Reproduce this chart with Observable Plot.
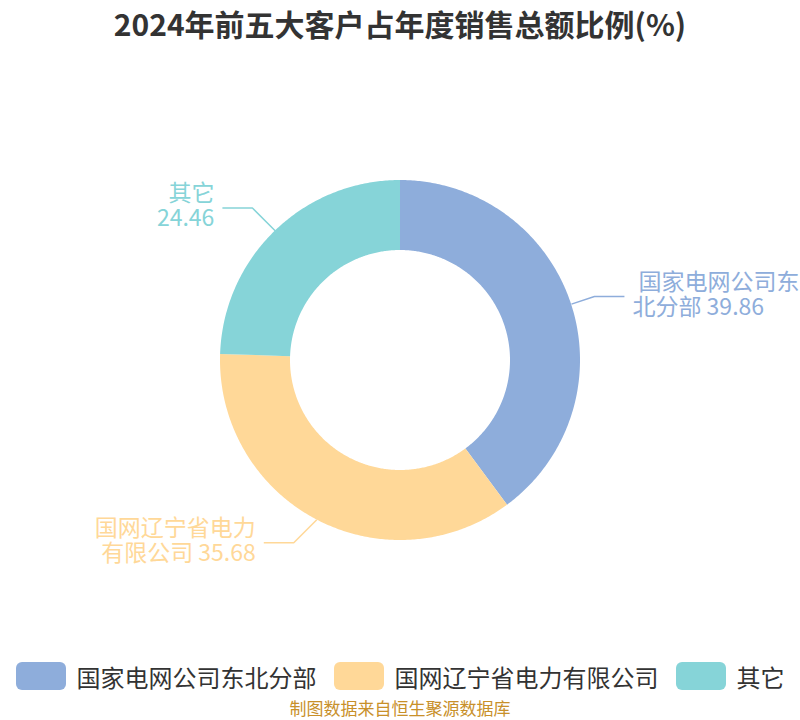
<!DOCTYPE html>
<html>
<head>
<meta charset="utf-8">
<script src="https://cdn.jsdelivr.net/npm/d3@7"></script>
<script src="https://cdn.jsdelivr.net/npm/@observablehq/plot@0.6"></script>
<style>
  html, body { margin: 0; padding: 0; background: #fff; width: 800px; overflow: hidden; }
  body { font-family: "Noto Sans CJK SC", "Noto Sans", sans-serif; }
  #title { height: 46px; line-height: 46px; text-align: center; font-size: 30px; font-weight: bold; color: #333; }
  #chart svg { display: block; }
  #legend { display: flex; justify-content: center; align-items: center; height: 36px; margin-top: 8px; font-size: 24px; color: #333; }
  .item { display: flex; align-items: center; margin: 0 8.5px; }
  .sw { width: 50px; height: 28px; border-radius: 6px; margin-right: 11px; }
  #caption { text-align: center; font-size: 17px; color: #c8902a; margin-top: 1px; }
</style>
</head>
<body>
<div id="title">2024年前五大客户占年度销售总额比例(%)</div>
<div id="chart"></div>
<div id="legend"></div>
<div id="caption">制图数据来自恒生聚源数据库</div>
<script>
const categories = ["国家电网公司东北分部", "国网辽宁省电力有限公司", "其它"];
const values = [39.86, 35.68, 24.46];
const labelLines = [["国家电网公司东", "北分部 39.86"], ["国网辽宁省电力", "有限公司 35.68"], ["其它", "24.46"]];
const colors = ["#8eaddb", "#ffd898", "#86d4d8"];

const R = 180, r = 110;
const pie = d3.pie().sort(null).value(d => d.value);
const arcs = pie(categories.map((c, i) => ({cat: c, value: values[i]})));

// ring sector outlines
const ring = [];
arcs.forEach(a => {
  const n = Math.max(2, Math.ceil((a.endAngle - a.startAngle) / 0.01));
  for (let k = 0; k <= n; k++) {
    const t = a.startAngle + (a.endAngle - a.startAngle) * k / n;
    ring.push({cat: a.data.cat, x1: R * Math.sin(t), y1: R * Math.cos(t), x2: r * Math.sin(t), y2: r * Math.cos(t)});
  }
});

// leader lines (first segment follows the radius, slope capped at 45°) and labels
const leaders = [];
const labels = [];
const DX1 = 23, L2 = 30, GAP = 8;
arcs.forEach((a, i) => {
  const m = (a.startAngle + a.endAngle) / 2;
  const sx = Math.sin(m), sy = Math.cos(m);
  const side = sx >= 0 ? 1 : -1;
  const slope = Math.min(Math.abs(sy / sx), 1);
  const p0 = [R * sx, R * sy];
  const p1 = [p0[0] + side * DX1, p0[1] + Math.sign(sy) * DX1 * slope];
  const p2 = [p1[0] + side * L2, p1[1]];
  [p0, p1, p2].forEach(p => leaders.push({cat: a.data.cat, x: p[0], y: p[1]}));
  const tx = p2[0] + side * GAP;
  const anchor = side > 0 ? "start" : "end";
  labels.push({cat: a.data.cat, text: labelLines[i][0], x: tx + (side > 0 ? 6 : 0), y: p2[1], line: 0, anchor});
  labels.push({cat: a.data.cat, text: labelLines[i][1], x: tx, y: p2[1], line: 1, anchor});
});

const color = {domain: categories, range: colors};

const textMark = (anchor, line) => Plot.text(labels.filter(d => d.anchor === anchor && d.line === line), {
  x: "x", y: "y", text: "text", fill: "cat", textAnchor: anchor, dy: line === 0 ? -14 : 11,
  fontSize: 23, fontFamily: "Noto Sans CJK SC"
});

const chart = Plot.plot({
  width: 800,
  height: 604,
  margin: 0,
  x: {domain: [-400, 400], axis: null},
  y: {domain: [-290, 314], axis: null},
  color,
  marks: [
    Plot.area(ring, {x1: "x1", y1: "y1", x2: "x2", y2: "y2", z: "cat", fill: "cat", curve: "linear"}),
    Plot.line(leaders, {x: "x", y: "y", z: "cat", stroke: "cat", strokeWidth: 1.5, strokeLinejoin: "miter", strokeLinecap: "butt"}),
    textMark("start", 0), textMark("start", 1), textMark("end", 0), textMark("end", 1)
  ]
});
document.getElementById("chart").appendChild(chart);

const legend = document.getElementById("legend");
categories.forEach((c, i) => {
  const it = document.createElement("div");
  it.className = "item";
  const sw = document.createElement("div");
  sw.className = "sw";
  sw.style.background = colors[i];
  const tx = document.createElement("span");
  tx.textContent = c;
  it.appendChild(sw); it.appendChild(tx);
  legend.appendChild(it);
});
</script>
</body>
</html>
